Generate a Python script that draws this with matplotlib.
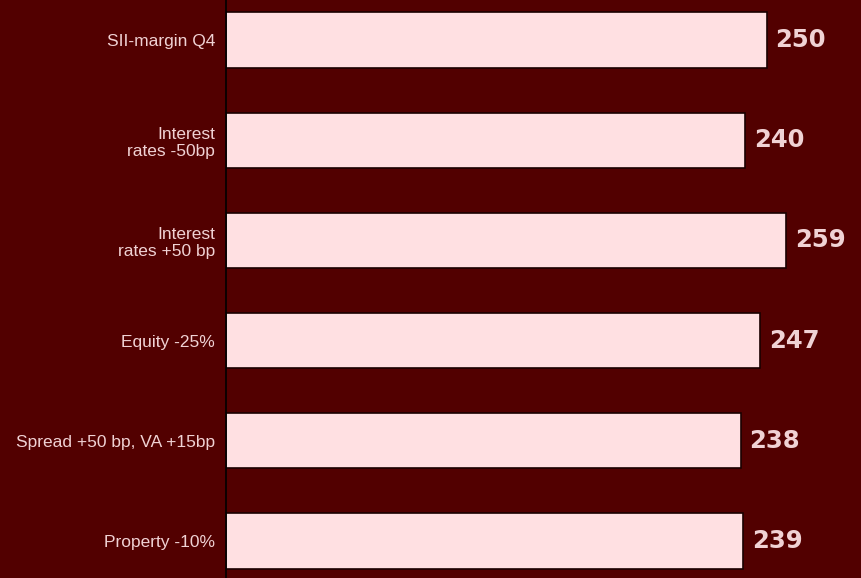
import matplotlib
matplotlib.use("Agg")
import matplotlib.pyplot as plt

categories = ["SII-margin Q4", "Interest\nrates -50bp", "Interest\nrates +50 bp",
              "Equity -25%", "Spread +50 bp, VA +15bp", "Property -10%"]
values = [250, 240, 259, 247, 238, 239]

bg = "#520000"
bar_color = "#ffe0e2"
text_color = "#f0d2d4"

fig = plt.figure(figsize=(8.62, 5.78), dpi=100)
fig.patch.set_facecolor(bg)
ax = fig.add_axes([226 / 862, 0, 1 - 226 / 862, 1])
ax.set_facecolor(bg)

pos = list(range(len(values)))
ax.barh(pos, values, height=0.55, color=bar_color, edgecolor="#1a0000", linewidth=1.2)

for p, v in zip(pos, values):
    ax.text(v + 4, p, str(v), va="center", ha="left", color=text_color,
            fontsize=17.5, fontweight="bold", family="DejaVu Sans")

ax.set_xlim(0, 294)
ax.set_ylim(5.369, -0.399)
ax.set_yticks(pos)
ax.set_yticklabels(categories, color=text_color, fontsize=12.5,
                   family="Liberation Sans", linespacing=1.2)
ax.tick_params(axis="y", length=0, pad=8)
ax.set_xticks([])
for s in ["top", "right", "bottom"]:
    ax.spines[s].set_visible(False)
ax.spines["left"].set_color("#000000")
ax.spines["left"].set_linewidth(1.2)

fig.savefig("out.png", dpi=100, facecolor=bg)
